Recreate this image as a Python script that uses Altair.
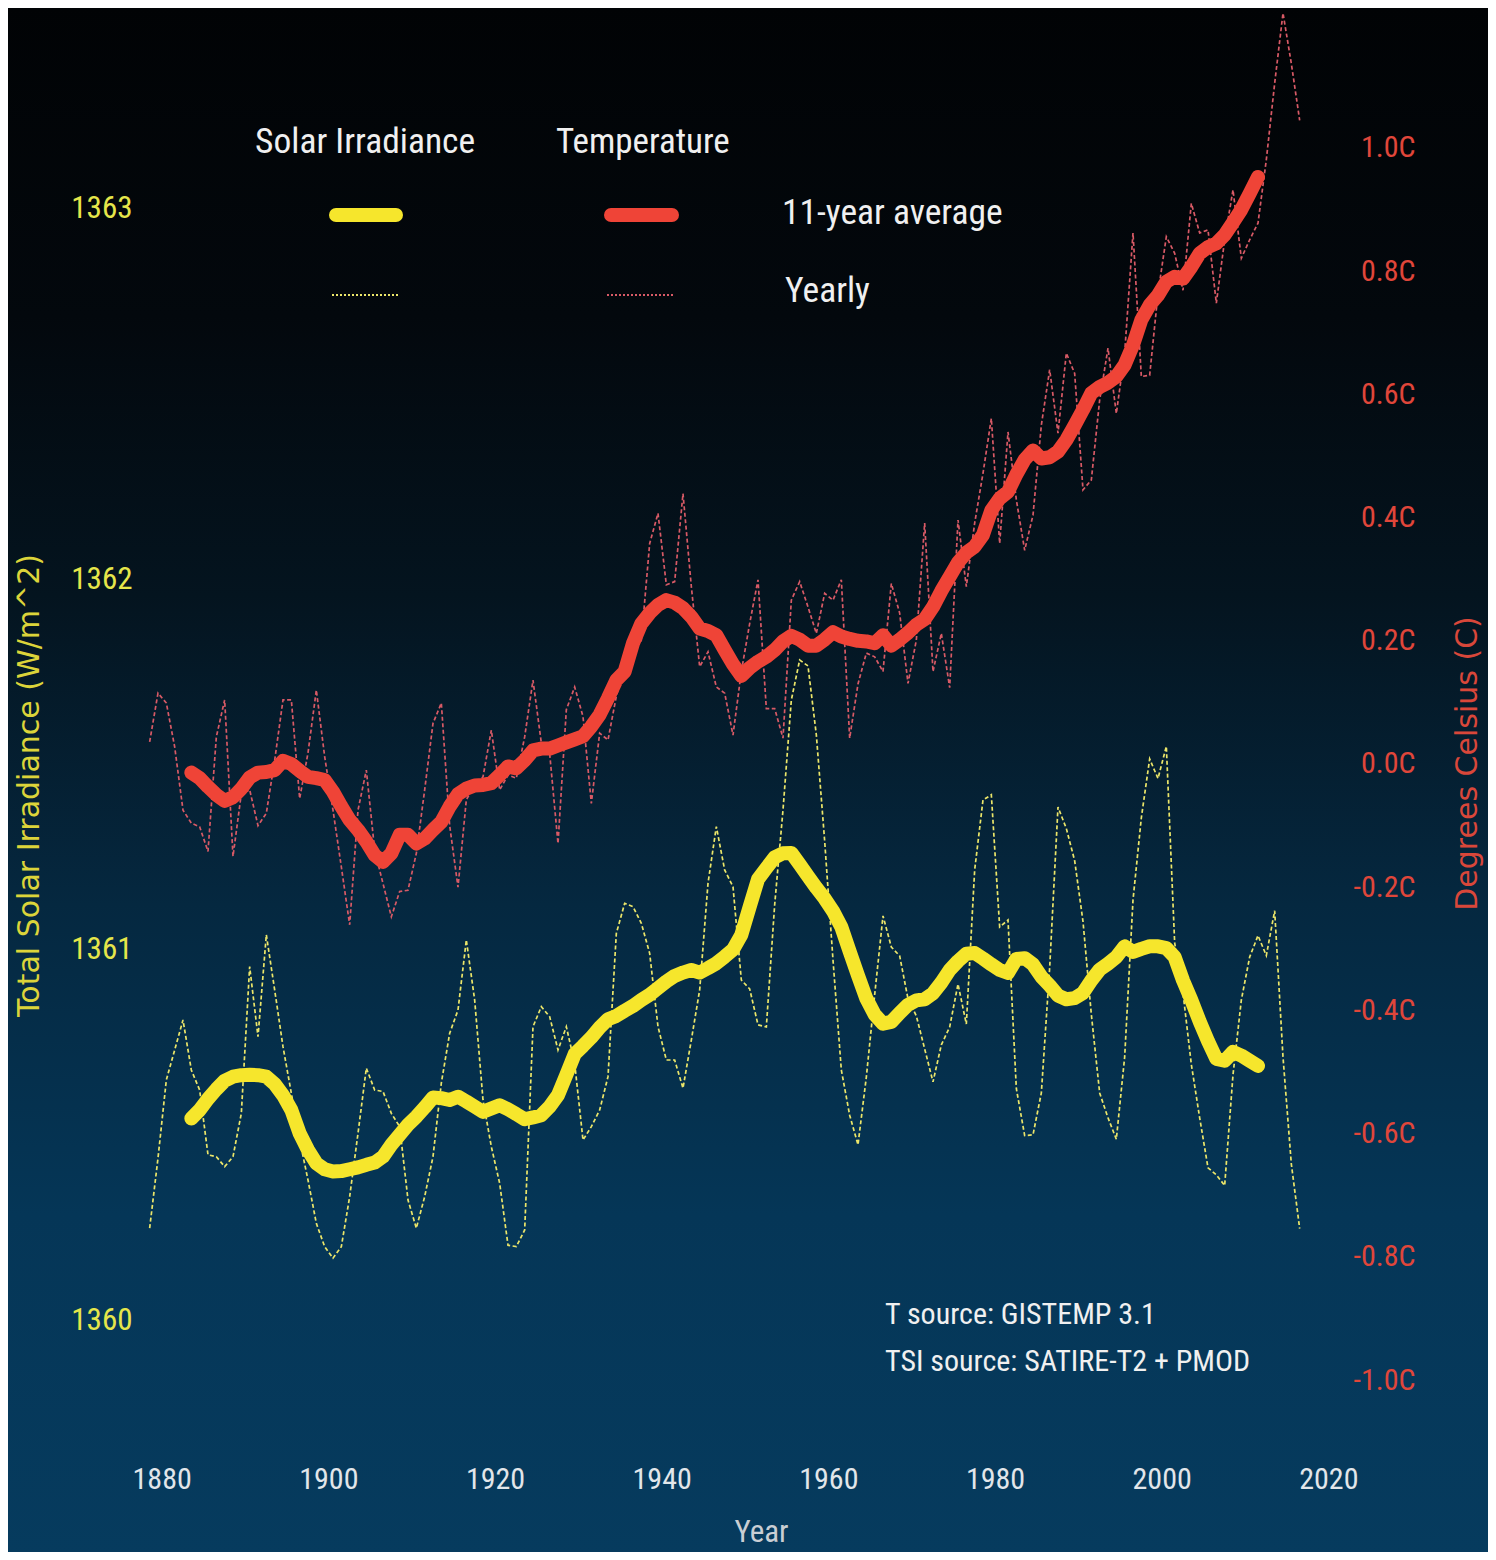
import altair as alt
import pandas as pd

# ---------------- data ----------------
years_yearly = list(range(1880, 2019))
years_avg = list(range(1885, 2014))

temp_yearly = [
    0.036, 0.115, 0.099, 0.028, -0.075, -0.096, -0.102, -0.142, 0.044, 0.104,
    -0.150, -0.048, -0.042, -0.100, -0.080, 0.006, 0.104, 0.104, -0.056, 0.018,
    0.120, 0.012, -0.075, -0.167, -0.261, -0.075, -0.010, -0.140, -0.194, -0.248,
    -0.207, -0.205, -0.145, -0.042, 0.066, 0.099, -0.100, -0.200, -0.058, -0.034,
    -0.021, 0.055, -0.042, -0.018, -0.023, 0.044, 0.136, 0.034, 0.017, -0.129,
    0.088, 0.125, 0.077, -0.064, 0.050, 0.039, 0.110, 0.158, 0.180, 0.201,
    0.358, 0.407, 0.291, 0.296, 0.439, 0.288, 0.158, 0.182, 0.125, 0.115,
    0.047, 0.150, 0.228, 0.299, 0.090, 0.090, 0.042, 0.266, 0.296, 0.255,
    0.212, 0.277, 0.266, 0.299, 0.042, 0.130, 0.180, 0.174, 0.150, 0.293,
    0.245, 0.131, 0.201, 0.391, 0.150, 0.212, 0.124, 0.396, 0.288, 0.391,
    0.472, 0.561, 0.358, 0.539, 0.429, 0.347, 0.404, 0.550, 0.640, 0.537,
    0.667, 0.634, 0.445, 0.461, 0.591, 0.675, 0.569, 0.667, 0.862, 0.629,
    0.631, 0.764, 0.856, 0.829, 0.769, 0.910, 0.862, 0.867, 0.748, 0.851,
    0.932, 0.821, 0.851, 0.878, 0.981, 1.105, 1.219, 1.137, 1.045,
]

temp_avg = [
    -0.014, -0.023, -0.037, -0.050, -0.060,
    -0.054, -0.040, -0.022, -0.014, -0.013, -0.010, 0.005, 0.000, -0.011, -0.021,
    -0.023, -0.026, -0.045, -0.069, -0.091, -0.107, -0.126, -0.148, -0.159, -0.145,
    -0.115, -0.115, -0.129, -0.121, -0.107, -0.094, -0.069, -0.049, -0.040, -0.035,
    -0.034, -0.031, -0.018, -0.004, -0.007, 0.006, 0.022, 0.025, 0.025, 0.030,
    0.035, 0.040, 0.045, 0.061, 0.080, 0.107, 0.136, 0.150, 0.196, 0.228,
    0.245, 0.258, 0.266, 0.262, 0.253, 0.239, 0.220, 0.216, 0.209, 0.185,
    0.162, 0.143, 0.156, 0.166, 0.174, 0.185, 0.199, 0.208, 0.202, 0.192,
    0.192, 0.202, 0.214, 0.207, 0.203, 0.200, 0.199, 0.196, 0.209, 0.192,
    0.202, 0.213, 0.226, 0.235, 0.255, 0.281, 0.304, 0.327, 0.343, 0.353,
    0.372, 0.412, 0.431, 0.442, 0.470, 0.494, 0.509, 0.496, 0.498, 0.507,
    0.526, 0.550, 0.575, 0.602, 0.612, 0.619, 0.629, 0.648, 0.680, 0.721,
    0.745, 0.761, 0.783, 0.791, 0.788, 0.807, 0.829, 0.839, 0.845, 0.859,
    0.879, 0.900, 0.926, 0.953,
]

tsi_yearly = [
    1360.248, 1360.437, 1360.648, 1360.729, 1360.810, 1360.675, 1360.621, 1360.446, 1360.441, 1360.414,
    1360.441, 1360.558, 1360.954, 1360.765, 1361.040, 1360.891, 1360.738, 1360.612, 1360.486, 1360.378,
    1360.261, 1360.198, 1360.167, 1360.198, 1360.333, 1360.504, 1360.680, 1360.621, 1360.617, 1360.558,
    1360.522, 1360.324, 1360.248, 1360.333, 1360.441, 1360.640, 1360.774, 1360.837, 1361.026, 1360.864,
    1360.594, 1360.468, 1360.369, 1360.202, 1360.198, 1360.243, 1360.792, 1360.846, 1360.819, 1360.729,
    1360.792, 1360.693, 1360.486, 1360.522, 1360.567, 1360.657, 1361.044, 1361.125, 1361.116, 1361.071,
    1360.990, 1360.792, 1360.702, 1360.702, 1360.626, 1360.756, 1360.891, 1361.179, 1361.332, 1361.215,
    1361.170, 1360.918, 1360.894, 1360.797, 1360.791, 1361.121, 1361.377, 1361.674, 1361.782, 1361.766,
    1361.580, 1361.293, 1360.972, 1360.675, 1360.553, 1360.473, 1360.656, 1360.878, 1361.091, 1361.007,
    1360.983, 1360.867, 1360.821, 1360.732, 1360.643, 1360.743, 1360.791, 1360.907, 1360.799, 1361.215,
    1361.404, 1361.418, 1361.061, 1361.080, 1360.625, 1360.498, 1360.500, 1360.613, 1360.951, 1361.385,
    1361.327, 1361.240, 1361.076, 1360.825, 1360.613, 1360.546, 1360.488, 1360.710, 1361.134, 1361.356,
    1361.515, 1361.462, 1361.549, 1361.018, 1360.883, 1360.690, 1360.546, 1360.411, 1360.392, 1360.363,
    1360.662, 1360.864, 1360.980, 1361.038, 1360.984, 1361.105, 1360.710, 1360.421, 1360.247,
]

tsi_avg = [
    1360.544, 1360.567, 1360.597, 1360.623, 1360.646,
    1360.657, 1360.661, 1360.662, 1360.661, 1360.657, 1360.637, 1360.607, 1360.567, 1360.504, 1360.459,
    1360.423, 1360.407, 1360.401, 1360.402, 1360.407, 1360.412, 1360.419, 1360.425, 1360.441, 1360.473,
    1360.500, 1360.527, 1360.549, 1360.574, 1360.601, 1360.599, 1360.594, 1360.603, 1360.590, 1360.576,
    1360.562, 1360.571, 1360.580, 1360.569, 1360.556, 1360.542, 1360.547, 1360.553, 1360.576, 1360.607,
    1360.662, 1360.718, 1360.740, 1360.763, 1360.790, 1360.812, 1360.821, 1360.835, 1360.848, 1360.864,
    1360.878, 1360.896, 1360.914, 1360.929, 1360.938, 1360.945, 1360.938, 1360.950, 1360.963, 1360.981,
    1361.000, 1361.040, 1361.116, 1361.190, 1361.220, 1361.249, 1361.260, 1361.261, 1361.230, 1361.198,
    1361.167, 1361.138, 1361.104, 1361.061, 1360.995, 1360.930, 1360.868, 1360.825, 1360.800, 1360.805,
    1360.829, 1360.851, 1360.863, 1360.866, 1360.882, 1360.911, 1360.945, 1360.969, 1360.989, 1360.991,
    1360.976, 1360.960, 1360.945, 1360.937, 1360.975, 1360.977, 1360.960, 1360.927, 1360.903, 1360.876,
    1360.866, 1360.869, 1360.883, 1360.917, 1360.946, 1360.962, 1360.980, 1361.009, 1360.994, 1361.002,
    1361.009, 1361.009, 1361.004, 1360.980, 1360.917, 1360.864, 1360.806, 1360.753, 1360.705, 1360.700,
    1360.724, 1360.714, 1360.700, 1360.686,
]

x_ticks = [1880, 1900, 1920, 1940, 1960, 1980, 2000, 2020]
tsi_ticks = [1360, 1361, 1362, 1363]
temp_ticks = [-1.0, -0.8, -0.6, -0.4, -0.2, 0.0, 0.2, 0.4, 0.6, 0.8, 1.0]

legend_headers = ["Solar Irradiance", "Temperature"]
legend_labels = ["11-year average", "Yearly"]
source_lines = ["T source: GISTEMP 3.1", "TSI source: SATIRE-T2 + PMOD"]

assert len(temp_yearly) == len(years_yearly) == len(tsi_yearly)
assert len(temp_avg) == len(years_avg) == len(tsi_avg)

# ---------------- styling ----------------
W, H = 1200, 1430
XDOM = [1878, 2022]
TSI_DOM = [1359.676, 1363.537]
TEMP_DOM = [-1.0974, 1.2240]

NARROW = "Liberation Sans Narrow, Arial Narrow, Roboto Condensed, DejaVu Sans Condensed, sans-serif"
WIDE = "DejaVu Sans, Verdana, Liberation Sans, sans-serif"

YELLOW = "#f6e62c"
YELLOW_THIN = "#ece66a"
RED = "#ef4437"
RED_THIN = "#d85a66"
TEXT = "#f0f0f0"

df_ty = pd.DataFrame({"year": years_yearly, "v": tsi_yearly})
df_ta = pd.DataFrame({"year": years_avg, "v": tsi_avg})
df_ry = pd.DataFrame({"year": years_yearly, "v": temp_yearly})
df_ra = pd.DataFrame({"year": years_avg, "v": temp_avg})
one = pd.DataFrame({"a": [0]})

x_axis = alt.Axis(
    values=x_ticks, format="d", domain=False, ticks=False, tickSize=0, grid=False, zindex=2,
    labelFont=NARROW, labelFontSize=30, labelColor="#e2e6ea", labelPadding=24,
    labelOffset=12,
    title="Year", titleFont=NARROW, titleFontSize=31, titleFontWeight="normal",
    titleColor="#c9ced4", titleX=628, titleY=92, titleBaseline="middle", titleAlign="center",
)


def xenc():
    return alt.X("year:Q", scale=alt.Scale(domain=XDOM, nice=False, zero=False), axis=x_axis)


tsi_axis = alt.Axis(
    orient="left", values=tsi_ticks, format="d", domain=False, ticks=False, tickSize=0,
    grid=False, zindex=2, labelFont=NARROW, labelFontSize=31, labelColor="#e6e64a", labelPadding=1,
    title="Total Solar Irradiance (W/m^2)", titleFont=WIDE, titleFontSize=30,
    titleFontWeight="normal", titleColor="#dcd43a", titleAngle=-90, titleX=-104, titleY=775,
    titleAlign="center", titleBaseline="middle",
)

temp_axis = alt.Axis(
    orient="right", values=temp_ticks, domain=False, ticks=False, tickSize=0, grid=False, zindex=2,
    labelExpr="(datum.value < 0 ? '-' : '') + format(abs(datum.value), '.1f') + 'C'",
    labelFont=NARROW, labelFontSize=30, labelColor="#e0463a", labelPadding=82, labelAlign="right",
    title="Degrees Celsius (C)", titleFont=WIDE, titleFontSize=30, titleFontWeight="normal",
    titleColor="#d9473a", titleAngle=-90, titleX=134, titleY=753,
    titleAlign="center", titleBaseline="middle",
)

tsi_y = lambda: alt.Y("v:Q", scale=alt.Scale(domain=TSI_DOM, nice=False, zero=False), axis=tsi_axis)
temp_y = lambda: alt.Y("v:Q", scale=alt.Scale(domain=TEMP_DOM, nice=False, zero=False), axis=temp_axis)

# background gradient
bg = alt.Chart(one).mark_rect(
    fill=alt.Gradient(
        gradient="linear",
        stops=[
            alt.GradientStop(color="#010305", offset=0.0),
            alt.GradientStop(color="#03080d", offset=0.2),
            alt.GradientStop(color="#04141f", offset=0.38),
            alt.GradientStop(color="#052840", offset=0.58),
            alt.GradientStop(color="#053657", offset=0.78),
            alt.GradientStop(color="#063b5e", offset=1.0),
        ],
        x1=0, x2=0, y1=0, y2=1,
    )
).encode(x=alt.value(-130), x2=alt.value(1360), y=alt.value(-4), y2=alt.value(1546))

tsi_year_line = alt.Chart(df_ty).mark_line(
    color=YELLOW_THIN, strokeWidth=1.7, strokeDash=[4, 2.5]
).encode(x=xenc(), y=tsi_y())
tsi_avg_line = alt.Chart(df_ta).mark_line(
    color=YELLOW, strokeWidth=14, strokeCap="round", strokeJoin="round"
).encode(x=xenc(), y=tsi_y())
tsi_layer = alt.layer(tsi_year_line, tsi_avg_line)

temp_year_line = alt.Chart(df_ry).mark_line(
    color=RED_THIN, strokeWidth=1.7, strokeDash=[4, 2.5]
).encode(x=xenc(), y=temp_y())
temp_avg_line = alt.Chart(df_ra).mark_line(
    color=RED, strokeWidth=14, strokeCap="round", strokeJoin="round"
).encode(x=xenc(), y=temp_y())
temp_layer = alt.layer(temp_year_line, temp_avg_line)


def label(txt, x, y, size, color=TEXT, font=NARROW):
    return alt.Chart(one).mark_text(
        align="left", baseline="middle", font=font, fontSize=size, color=color
    ).encode(x=alt.value(x), y=alt.value(y), text=alt.value(txt))


def swatch(x1, x2, y, color, width, dash=None, cap="round"):
    kw = dict(color=color, strokeWidth=width, strokeCap=cap)
    if dash:
        kw["strokeDash"] = dash
    return alt.Chart(one).mark_rule(**kw).encode(x=alt.value(x1), x2=alt.value(x2), y=alt.value(y))


legend = [
    label(legend_headers[0], 122, 132, 35.5),
    label(legend_headers[1], 423, 132, 35),
    swatch(203, 263, 205, YELLOW, 14),
    swatch(478, 539, 205, RED, 14),
    swatch(199, 266, 285, YELLOW_THIN, 2, dash=[2, 2], cap="butt"),
    swatch(474, 542, 285, RED_THIN, 2, dash=[2, 2], cap="butt"),
    label(legend_labels[0], 649, 203, 35.5),
    label(legend_labels[1], 652, 281, 35.5),
    label(source_lines[0], 752, 1305, 30),
    label(source_lines[1], 752, 1352, 30),
]

chart = alt.layer(bg, tsi_layer, temp_layer, *legend).resolve_scale(
    y="independent"
).properties(
    width=W, height=H,
    padding={"left": 125, "top": 2, "right": 155, "bottom": 112},
    autosize=alt.AutoSizeParams(type="none"),
    background="#031420",
).configure_view(stroke=None)

chart.save("out.html", embed_options={"renderer": "svg", "actions": False})
